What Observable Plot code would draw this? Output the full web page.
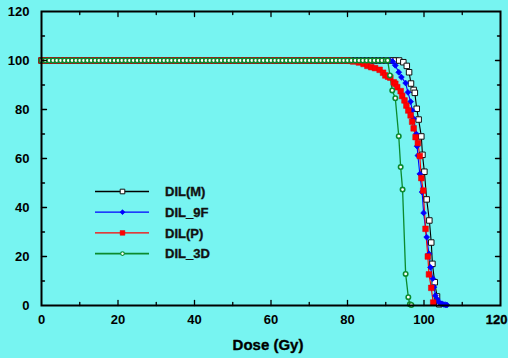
<!DOCTYPE html>
<html><head><meta charset="utf-8">
<script src="https://cdn.jsdelivr.net/npm/d3@7"></script>
<script src="https://cdn.jsdelivr.net/npm/@observablehq/plot@0.6"></script>
<style>
html,body{margin:0;padding:0;background:#77F4F1;}
#wrap{position:relative;width:508px;height:358px;background:#77F4F1;}
#wrap svg{position:absolute;left:0;top:0;}
</style></head><body><div id="wrap"></div>
<script>
// ---- data ----
const seriesNames = ["DIL(M)", "DIL_9F", "DIL(P)", "DIL_3D"];
const plateauDose = [0,1,2,3,4,5,6,7,8,9,10,11,12,13,14,15,16,17,18,19,20,21,22,23,24,25,26,27,28,29,30,
  31,32,33,34,35,36,37,38,39,40,41,42,43,44,45,46,47,48,49,50,51,52,53,54,55,56,57,58,59,60,
  61,62,63,64,65,66,67,68,69,70,71,72,73,74,75,76,77,78,79,80,81,82,83,84,85,86,87,88,89,90,91,92];
const plateauVol = 100;

const mDose = [92.6,93.5,94.6,95.5,96.1,96.6,97.3,97.6,98.1,98.6,99.3,99.6,100.1,100.7,101.4,101.9,102.2,102.8,103.4,104.0];
const mVol  = [100,100,99.3,97.8,95.2,90.6,88.0,86.8,80.3,75.9,69.0,61.5,54.6,43.3,34.7,25.7,17.0,9.5,3.7,0.5];

const fDose = [91.8,92.5,93.4,94.1,95.2,95.8,96.5,96.9,97.3,98.0,98.2,98.4,98.9,99.5,99.9,100.7,101.3,101.7,102.3,102.6,103.0,103.5,104.0,104.4,104.8,105.2,105.6,106.0];
const fVol  = [99.6,98.0,95.2,93.2,90.8,87.0,83.2,79.6,76.2,70.0,65.0,61.2,53.7,46.3,37.8,27.9,21.1,15.6,11.0,7.5,4.0,2.5,1.2,0.8,0.6,0.4,0.3,0.2];

const pDose = [80.5,81.5,83.0,84.2,85.2,86.2,87.2,88.4,89.3,89.9,90.6,91.2,92.1,92.5,93.0,93.9,94.3,94.9,95.4,95.9,96.5,96.9,97.3,97.8,98.4,98.9,99.3,99.8,100.4,101.0,101.3,101.9,102.4];
const pVol  = [99.9,99.6,99.2,98.6,97.8,97.3,96.9,96.2,95.0,93.9,93.4,93.0,91.1,90.5,89.1,87.5,85.5,83.7,81.6,79.6,77.6,75.0,72.3,68.7,66.3,61.0,52.0,46.9,31.3,20.0,12.7,7.2,1.2];

const gDose = [90.5,91.1,91.7,92.5,93.4,93.9,94.4,95.2,95.9,96.3,96.7];
const gVol  = [100,93.9,87.8,84.6,69.1,56.5,47.3,12.9,3.4,0.5,0.2];

const xTickLabels = [0,20,40,60,80,100];
const xLastLabel = [120];
const yTickLabels = [0,20,40,60,80,100,120];
const majorTicks = [20,40,60,80,100];
const minorTicks = [10,30,50,70,90,110];

// ---- build tables ----
function build(name, dose, vol) {
  const start = dose[0];
  const flat = plateauDose.filter(d => d < start).map(d => ({name, dose: d, vol: plateauVol}));
  return flat.concat(dose.map((d, i) => ({name, dose: d, vol: vol[i]})));
}
const M = build(seriesNames[0], mDose, mVol);
const F = build(seriesNames[1], fDose, fVol);
const P = build(seriesNames[2], pDose, pVol);
const G = build(seriesNames[3], gDose, gVol);

const styles = [
  {line: "#000000", symbol: "square", r: 3.1, fill: "#ffffff", stroke: "#111111", sw: 1},
  {line: "#0000ff", symbol: "diamond2", r: 2.6, fill: "#0000ff", stroke: "#0000ff", sw: 0.8},
  {line: "#ff0000", symbol: "square", r: 3.2, fill: "#ff0000", stroke: "#e00000", sw: 0.5},
  {line: "#0b8a2e", symbol: "circle", r: 2.2, fill: "#ffffff", stroke: "#0b8a2e", sw: 1.6}
];
const tables = [M, F, P, G];

const tickShape = {draw(ctx, l) { ctx.moveTo(0, 0); ctx.lineTo(0, -l); }};
function ticks(values, ch, anchor, rotate, len) {
  return Plot.vector(values, {[ch]: d => d, frameAnchor: anchor, rotate, length: len, anchor: "start",
    shape: tickShape, stroke: "black", strokeWidth: 1.3});
}

const marks = [];
tables.forEach((t, i) => {
  const s = styles[i];
  marks.push(Plot.line(t, {x: "dose", y: "vol", stroke: s.line, strokeWidth: i === 3 ? 1.3 : 1.1}));
});
tables.forEach((t, i) => {
  const s = styles[i];
  marks.push(Plot.dot(t, {x: "dose", y: "vol", symbol: () => s.symbol, r: s.r, fill: s.fill, stroke: s.stroke, strokeWidth: s.sw}));
});

const font = "'Liberation Sans', Arial, Helvetica, sans-serif";
const textOpts = {fontSize: 13, fontWeight: "bold", fill: "black", stroke: "black", strokeWidth: 0.35};
const chart = Plot.plot({
  width: 508, height: 358,
  marginLeft: 41, marginRight: 8, marginTop: 11, marginBottom: 53,
  style: {background: "transparent", fontFamily: font, fontSize: "13px", fontWeight: "bold", color: "black"},
  x: {domain: [0, 120], axis: null},
  y: {domain: [0, 120], axis: null},
  symbol: {type: "identity"},
  marks: [
    ...marks,
    ticks(majorTicks, "x", "bottom", 0, 5),
    ticks(minorTicks, "x", "bottom", 0, 3),
    ticks(majorTicks, "x", "top", 180, 5),
    ticks(minorTicks, "x", "top", 180, 3),
    ticks(majorTicks, "y", "left", 90, 5),
    ticks(minorTicks, "y", "left", 90, 3),
    ticks(majorTicks, "y", "right", -90, 5),
    ticks(minorTicks, "y", "right", -90, 3),
    Plot.frame({stroke: "black", strokeWidth: 2}),
    Plot.axisX(xTickLabels, {anchor: "bottom", tickSize: 0, tickPadding: 9, label: null, ...textOpts}),
    Plot.text(xLastLabel, {x: d => d, text: d => String(d), frameAnchor: "bottom", lineAnchor: "middle", textAnchor: "end", dx: 7, dy: 14, ...textOpts}),
    Plot.axisY(yTickLabels, {anchor: "left", tickSize: 0, tickPadding: 12, label: null, ...textOpts}),
    Plot.text(["Dose (Gy)"], {text: d => d, frameAnchor: "bottom", lineAnchor: "middle", dx: -3, dy: 40, ...textOpts, fontSize: 15})
  ]
});
const wrap = document.getElementById("wrap");
wrap.appendChild(chart);

// ---- legend overlay ----
const leg = d3.select(wrap).append("svg").attr("width", 508).attr("height", 358)
  .style("pointer-events", "none");
const symMap = {square: d3.symbolSquare, diamond2: d3.symbolDiamond2, circle: d3.symbolCircle};
seriesNames.forEach((name, i) => {
  const s = styles[i];
  const y = 191.5 + i * 20.7;
  leg.append("line").attr("x1", 95).attr("x2", 149).attr("y1", y).attr("y2", y)
    .attr("stroke", s.line).attr("stroke-width", i === 3 ? 1.8 : 1.3);
  leg.append("path").attr("d", d3.symbol(symMap[s.symbol], s.r * s.r * Math.PI * 0.7)())
    .attr("transform", `translate(122.5,${y})`)
    .attr("fill", s.fill).attr("stroke", s.stroke).attr("stroke-width", i === 3 ? 1.1 : s.sw);
  leg.append("text").attr("x", 165).attr("y", y + 4.7).text(name)
    .attr("font-family", font).attr("font-size", 13).attr("font-weight", "bold")
    .attr("fill", "#111").attr("stroke", "#111").attr("stroke-width", 0.35);
});
</script>
</body></html>
